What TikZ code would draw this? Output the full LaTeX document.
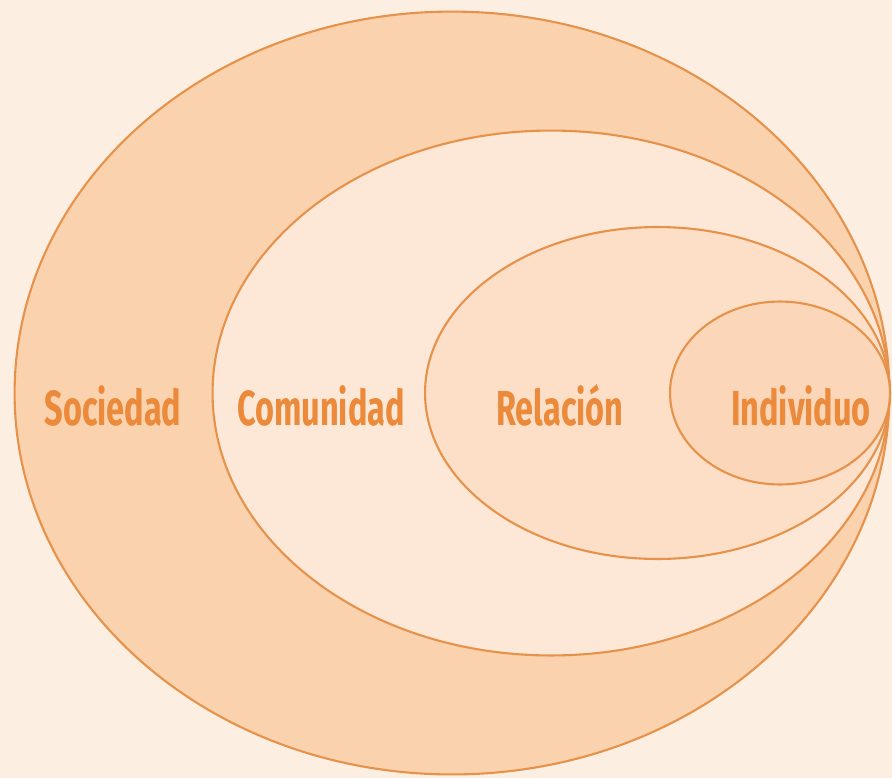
\documentclass[tikz,border=0pt]{standalone}
\usepackage{fontspec}
\setmainfont{Fira Sans}[FakeStretch=0.66]
\usetikzlibrary{shapes.geometric}
\definecolor{bgpeach}{HTML}{FDEEE2}
\definecolor{ringline}{HTML}{E6924A}
\definecolor{socfill}{HTML}{FBD2AE}
\definecolor{comfill}{HTML}{FDE8D8}
\definecolor{relfill}{HTML}{FCDFC6}
\definecolor{indfill}{HTML}{FBD6B8}
\definecolor{labeltext}{HTML}{EB8A3A}
\begin{document}
\begin{tikzpicture}[x=0.02cm,y=-0.02cm,
    ring/.style={ellipse,draw=ringline,line width=1.2pt,inner sep=0pt},
    level label/.style={anchor=base,text=labeltext,font=\bfseries\fontsize{28}{30}\selectfont}]
        \fill[bgpeach] (0,0) rectangle (892,778);
        \useasboundingbox (0,0) rectangle (892,778);

        \node[ring, fill=socfill, minimum width=17.5cm, minimum height=15.26cm] at (452, 393) (sociedad) {};
        \node[ring, fill=comfill, minimum width=13.54cm, minimum height=10.5cm] at (551, 393) (comunidad) {};
        \node[ring, fill=relfill, minimum width=9.3cm, minimum height=6.64cm] at (657.5, 393) (relacion) {};
        \node[ring, fill=indfill, minimum width=4.4cm, minimum height=3.66cm] at (780, 393) (individuo) {};

        \node[level label] at (113, 425) (l-soc) {Sociedad};
        \node[level label] at (321, 425) (l-com) {Comunidad};
        \node[level label] at (560, 425) (l-rel) {Relación};
        \node[level label] at (801, 425) (l-ind) {Individuo};
    \end{tikzpicture}
\end{document}
